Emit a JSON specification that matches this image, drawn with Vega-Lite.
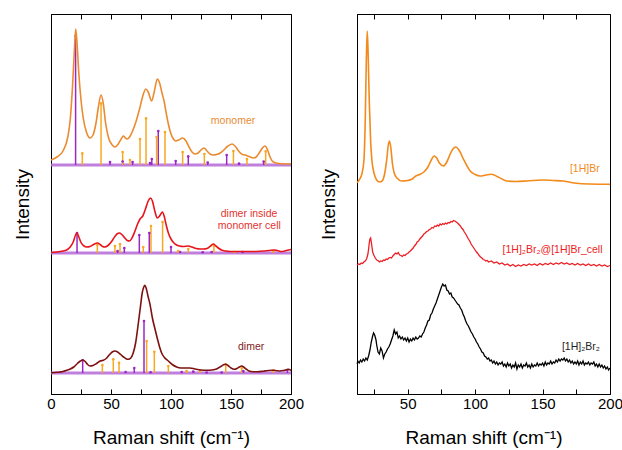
{
  "$schema": "https://vega.github.io/schema/vega-lite/v6.json",
  "background": "white",
  "padding": {"left": 12, "top": 13, "right": 5, "bottom": 0},
  "spacing": 13,
  "config": {
    "font": "Liberation Sans",
    "view": {"stroke": "black", "strokeWidth": 1},
    "axis": {"grid": false, "domainColor": "black", "tickColor": "black", "labelColor": "black", "titleColor": "black", "labelFontSize": 15, "titleFontSize": 19, "titleFontWeight": "normal", "labelFlush": false, "labelOverlap": false}
  },
  "datasets": {
    "bases": [{"b": 229}, {"b": 141}, {"b": 21}],
    "sticks": [
      {"t": "p", "x": 20.5, "y0": 229, "y1": 358}, {"t": "p", "x": 49.2, "y0": 229, "y1": 232}, {"t": "p", "x": 59.7, "y0": 229, "y1": 232.5}, {"t": "p", "x": 68, "y0": 229, "y1": 232}, {"t": "p", "x": 82.5, "y0": 229, "y1": 231}, {"t": "p", "x": 84, "y0": 229, "y1": 235}, {"t": "p", "x": 89.4, "y0": 229, "y1": 263}, {"t": "p", "x": 103.9, "y0": 229, "y1": 233}, {"t": "p", "x": 114.4, "y0": 229, "y1": 237.6}, {"t": "p", "x": 130.6, "y0": 229, "y1": 231.5}, {"t": "p", "x": 146.4, "y0": 229, "y1": 239}, {"t": "p", "x": 156.7, "y0": 229, "y1": 230.5}, {"t": "p", "x": 177.2, "y0": 229, "y1": 232.5},
      {"t": "o", "x": 26.1, "y0": 229, "y1": 240.6}, {"t": "o", "x": 41.7, "y0": 229, "y1": 290.6}, {"t": "o", "x": 59.7, "y0": 229, "y1": 242}, {"t": "o", "x": 65.8, "y0": 229, "y1": 234}, {"t": "o", "x": 74.2, "y0": 229, "y1": 255}, {"t": "o", "x": 79.2, "y0": 229, "y1": 275.6}, {"t": "o", "x": 88, "y0": 229, "y1": 257}, {"t": "o", "x": 95, "y0": 229, "y1": 262}, {"t": "o", "x": 109.7, "y0": 229, "y1": 242}, {"t": "o", "x": 127.8, "y0": 229, "y1": 240}, {"t": "o", "x": 152, "y0": 229, "y1": 243}, {"t": "o", "x": 163.3, "y0": 229, "y1": 235}, {"t": "o", "x": 178.9, "y0": 229, "y1": 242.6},
      {"t": "p", "x": 21.7, "y0": 141, "y1": 161}, {"t": "p", "x": 55.5, "y0": 141, "y1": 143}, {"t": "p", "x": 61.1, "y0": 141, "y1": 146}, {"t": "p", "x": 73.6, "y0": 141, "y1": 159}, {"t": "p", "x": 81.9, "y0": 141, "y1": 161}, {"t": "p", "x": 100, "y0": 141, "y1": 147}, {"t": "p", "x": 107.5, "y0": 141, "y1": 142}, {"t": "p", "x": 126.4, "y0": 141, "y1": 141.7}, {"t": "p", "x": 133.9, "y0": 141, "y1": 142}, {"t": "p", "x": 159.7, "y0": 141, "y1": 142},
      {"t": "o", "x": 38.6, "y0": 141, "y1": 149}, {"t": "o", "x": 53.3, "y0": 141, "y1": 148}, {"t": "o", "x": 57.5, "y0": 141, "y1": 150}, {"t": "o", "x": 76.9, "y0": 141, "y1": 147}, {"t": "o", "x": 83.3, "y0": 141, "y1": 168}, {"t": "o", "x": 93, "y0": 141, "y1": 172}, {"t": "o", "x": 106, "y0": 141, "y1": 143}, {"t": "o", "x": 114.4, "y0": 141, "y1": 145}, {"t": "o", "x": 135.8, "y0": 141, "y1": 148}, {"t": "o", "x": 152.8, "y0": 141, "y1": 142}, {"t": "o", "x": 185.3, "y0": 141, "y1": 143},
      {"t": "p", "x": 26.4, "y0": 21, "y1": 33.7}, {"t": "p", "x": 62.2, "y0": 21, "y1": 22}, {"t": "p", "x": 69.4, "y0": 21, "y1": 26}, {"t": "p", "x": 77.5, "y0": 21, "y1": 73}, {"t": "p", "x": 83, "y0": 21, "y1": 21.7}, {"t": "p", "x": 108.9, "y0": 21, "y1": 22}, {"t": "p", "x": 118.6, "y0": 21, "y1": 22.5}, {"t": "p", "x": 129.7, "y0": 21, "y1": 21.5}, {"t": "p", "x": 142.2, "y0": 21, "y1": 21.5}, {"t": "p", "x": 160.3, "y0": 21, "y1": 23}, {"t": "p", "x": 197, "y0": 21, "y1": 24},
      {"t": "o", "x": 42.8, "y0": 21, "y1": 29}, {"t": "o", "x": 51.9, "y0": 21, "y1": 34.7}, {"t": "o", "x": 56.7, "y0": 21, "y1": 31.3}, {"t": "o", "x": 79.7, "y0": 21, "y1": 53}, {"t": "o", "x": 86.1, "y0": 21, "y1": 42.3}, {"t": "o", "x": 97.8, "y0": 21, "y1": 28}, {"t": "o", "x": 113, "y0": 21, "y1": 23}, {"t": "o", "x": 124.2, "y0": 21, "y1": 23}, {"t": "o", "x": 145.6, "y0": 21, "y1": 29.7}, {"t": "o", "x": 158.9, "y0": 21, "y1": 26}, {"t": "o", "x": 185.3, "y0": 21, "y1": 23.7}
    ],
    "mono": [{"x":0,"y":234},{"x":5,"y":237},{"x":10,"y":243},{"x":14,"y":257},{"x":16,"y":274},{"x":18,"y":309},{"x":19.5,"y":344},{"x":20.6,"y":365},{"x":21.7,"y":351},{"x":23,"y":324},{"x":25,"y":294},{"x":27,"y":275},{"x":29.5,"y":262},{"x":32.5,"y":256},{"x":35,"y":259},{"x":37.5,"y":271},{"x":39.5,"y":287},{"x":41.7,"y":299},{"x":43.5,"y":291},{"x":45.5,"y":271},{"x":48,"y":256},{"x":51,"y":249},{"x":53.3,"y":247},{"x":56,"y":250},{"x":58.5,"y":255},{"x":60.3,"y":258},{"x":62,"y":256},{"x":63.6,"y":255},{"x":65.5,"y":257},{"x":68,"y":263},{"x":71,"y":273},{"x":74,"y":286},{"x":76.5,"y":298},{"x":79,"y":305},{"x":81,"y":302},{"x":83.9,"y":293},{"x":86,"y":302},{"x":88.6,"y":315},{"x":90.5,"y":311},{"x":92.5,"y":301},{"x":94.2,"y":293},{"x":96,"y":281},{"x":97.8,"y":270},{"x":100,"y":260},{"x":102,"y":255},{"x":104,"y":253},{"x":106.5,"y":254},{"x":109.7,"y":256},{"x":112.5,"y":253},{"x":115,"y":247},{"x":117.5,"y":242},{"x":120,"y":240},{"x":122.5,"y":241},{"x":125,"y":244},{"x":127.5,"y":246},{"x":130,"y":243},{"x":132.5,"y":240},{"x":135.3,"y":239},{"x":138,"y":239.5},{"x":141,"y":241},{"x":144,"y":244},{"x":147,"y":247.5},{"x":151,"y":250},{"x":154,"y":247},{"x":157,"y":242},{"x":159.5,"y":239.5},{"x":161.7,"y":239},{"x":165,"y":237.5},{"x":168.6,"y":236},{"x":171,"y":237},{"x":174,"y":242},{"x":176.5,"y":246.5},{"x":178.3,"y":248},{"x":180.5,"y":244},{"x":182.5,"y":237},{"x":185.3,"y":232},{"x":190,"y":230.5},{"x":200,"y":230}],
    "dcell": [{"x":0,"y":141.5},{"x":5,"y":142},{"x":10,"y":143},{"x":13,"y":144},{"x":16,"y":147},{"x":18.5,"y":152},{"x":20.5,"y":159},{"x":21.7,"y":161},{"x":23.2,"y":157},{"x":25,"y":151.5},{"x":27.5,"y":148},{"x":29.7,"y":147},{"x":32.5,"y":147.5},{"x":35.5,"y":149.5},{"x":38.6,"y":151},{"x":41,"y":149.5},{"x":43,"y":147.5},{"x":45,"y":147},{"x":47.5,"y":148.5},{"x":50.5,"y":152.5},{"x":53.5,"y":158},{"x":55.5,"y":160.5},{"x":57,"y":161},{"x":59,"y":159.5},{"x":61.5,"y":156},{"x":63.5,"y":153.5},{"x":65.3,"y":153},{"x":67.5,"y":156},{"x":70,"y":163},{"x":72.5,"y":171},{"x":74.2,"y":175},{"x":76.5,"y":178},{"x":79,"y":186},{"x":81,"y":193},{"x":83,"y":196},{"x":84.5,"y":193},{"x":86.5,"y":183},{"x":88.6,"y":176},{"x":90.5,"y":178},{"x":92.8,"y":182},{"x":94.5,"y":177},{"x":96,"y":169},{"x":97.8,"y":161},{"x":100,"y":155},{"x":102.5,"y":151},{"x":104.7,"y":149},{"x":107,"y":148},{"x":110,"y":147.5},{"x":114.4,"y":148},{"x":117.5,"y":147},{"x":121,"y":145.5},{"x":124,"y":145},{"x":127,"y":145},{"x":130,"y":145.5},{"x":133,"y":148},{"x":135.3,"y":150},{"x":137.5,"y":148},{"x":140,"y":145.5},{"x":142,"y":144},{"x":145,"y":143},{"x":150,"y":142.5},{"x":157.5,"y":142.5},{"x":165,"y":142.5},{"x":171.4,"y":142.5},{"x":178,"y":143},{"x":182,"y":143.5},{"x":185.3,"y":144},{"x":188.5,"y":143.5},{"x":192.2,"y":142.5},{"x":196,"y":143.5},{"x":200,"y":144.5}],
    "dim": [{"x":0,"y":21.3},{"x":5,"y":21.7},{"x":10,"y":22.5},{"x":13,"y":23.7},{"x":16,"y":25},{"x":19,"y":27},{"x":22,"y":30.5},{"x":24.5,"y":33},{"x":26.4,"y":34},{"x":28.5,"y":32.5},{"x":30.5,"y":29.5},{"x":32.5,"y":28},{"x":35,"y":28.5},{"x":38,"y":30.5},{"x":41,"y":33},{"x":43.6,"y":33.7},{"x":46,"y":35.5},{"x":48.5,"y":39},{"x":51,"y":42},{"x":53.3,"y":43},{"x":55.5,"y":42},{"x":58,"y":39.5},{"x":60.5,"y":37},{"x":62.5,"y":35.3},{"x":64.4,"y":34.7},{"x":66.5,"y":36},{"x":68.5,"y":41},{"x":70.5,"y":51},{"x":72.8,"y":71},{"x":74.5,"y":87},{"x":76,"y":101},{"x":77.3,"y":107},{"x":78.3,"y":108.7},{"x":79.5,"y":105},{"x":80.8,"y":98},{"x":82.5,"y":89.7},{"x":84.5,"y":76},{"x":86.7,"y":64.7},{"x":88.5,"y":56},{"x":90.5,"y":47},{"x":92.2,"y":41},{"x":94.5,"y":36.5},{"x":97.8,"y":33},{"x":101,"y":29.5},{"x":104.7,"y":27},{"x":108,"y":26},{"x":112,"y":26},{"x":115.8,"y":26},{"x":120,"y":25},{"x":125,"y":24},{"x":129.7,"y":23.7},{"x":134,"y":24},{"x":138,"y":25},{"x":141.5,"y":27.5},{"x":143.8,"y":29.3},{"x":145.6,"y":29.7},{"x":147.5,"y":28.5},{"x":150,"y":26},{"x":152.8,"y":24.7},{"x":155,"y":25.5},{"x":157,"y":27},{"x":158.9,"y":28},{"x":160.5,"y":27},{"x":162.5,"y":25},{"x":165,"y":23},{"x":168.6,"y":22.3},{"x":172,"y":22.2},{"x":177,"y":22.8},{"x":181,"y":23.5},{"x":185.3,"y":23.7},{"x":188,"y":23.3},{"x":190.8,"y":23},{"x":194,"y":23.5},{"x":197.8,"y":24.7},{"x":200,"y":23.5}],
    "rorange": [{"x":12.5,"y":211.3},{"x":14,"y":214},{"x":16,"y":220},{"x":17.5,"y":233},{"x":18.5,"y":273},{"x":19.3,"y":333},{"x":20,"y":363},{"x":20.7,"y":338},{"x":21.5,"y":293},{"x":22.5,"y":253},{"x":23.5,"y":233},{"x":25,"y":221},{"x":27,"y":214},{"x":29,"y":212},{"x":31,"y":213},{"x":33,"y":221},{"x":34.5,"y":235},{"x":35.5,"y":248},{"x":36.5,"y":253},{"x":37.5,"y":246},{"x":38.7,"y":230},{"x":40,"y":221},{"x":42,"y":216},{"x":45.7,"y":213},{"x":50,"y":213.5},{"x":53,"y":214.7},{"x":56,"y":218},{"x":59.3,"y":219.7},{"x":62,"y":222},{"x":65,"y":227},{"x":67.5,"y":234},{"x":69.6,"y":238},{"x":71.5,"y":236},{"x":73.5,"y":231},{"x":76.5,"y":228},{"x":79,"y":232},{"x":81.5,"y":240},{"x":83.5,"y":245},{"x":85.7,"y":247},{"x":88,"y":244},{"x":91.4,"y":234.7},{"x":94,"y":228},{"x":96.3,"y":223},{"x":100,"y":219.5},{"x":103.7,"y":218},{"x":108,"y":219},{"x":112.3,"y":219.7},{"x":117,"y":217},{"x":123.5,"y":213},{"x":130,"y":212.5},{"x":138.3,"y":213},{"x":149.4,"y":214},{"x":158,"y":213.5},{"x":165.4,"y":213},{"x":175.3,"y":210.7},{"x":185,"y":210},{"x":200,"y":209.7}],
    "rred": [{"x":12.5,"y":129},{"x":13.5,"y":130},{"x":14.5,"y":129.5},{"x":15.5,"y":131},{"x":16.5,"y":130.5},{"x":17.5,"y":132},{"x":18.5,"y":133},{"x":19.5,"y":135},{"x":20.5,"y":140},{"x":21,"y":145},{"x":21.5,"y":151},{"x":22,"y":155},{"x":22.5,"y":156},{"x":23,"y":152},{"x":23.5,"y":147},{"x":24,"y":142},{"x":25,"y":138.5},{"x":26,"y":136},{"x":27,"y":134},{"x":28,"y":133.5},{"x":29,"y":132},{"x":30,"y":133},{"x":31,"y":132.5},{"x":32,"y":134},{"x":33,"y":133.5},{"x":34,"y":135},{"x":35,"y":134.5},{"x":36,"y":136},{"x":37,"y":136.5},{"x":38,"y":136},{"x":39,"y":138},{"x":40,"y":139.5},{"x":41,"y":141},{"x":42,"y":140},{"x":43,"y":141.5},{"x":44,"y":139},{"x":45,"y":138.5},{"x":46,"y":137.5},{"x":47,"y":139},{"x":48,"y":138.5},{"x":49,"y":140},{"x":50,"y":140.5},{"x":51,"y":142},{"x":52,"y":143},{"x":53,"y":144.5},{"x":54,"y":146},{"x":55,"y":148},{"x":56,"y":149.5},{"x":57,"y":152},{"x":58,"y":153},{"x":59,"y":155},{"x":60,"y":156.5},{"x":61,"y":158},{"x":62,"y":160},{"x":63,"y":161},{"x":64,"y":162.5},{"x":65,"y":163},{"x":66,"y":164.5},{"x":67,"y":165},{"x":68,"y":166.5},{"x":69,"y":166},{"x":70,"y":168},{"x":71,"y":167.5},{"x":72,"y":169},{"x":73,"y":168},{"x":74,"y":170},{"x":75,"y":169},{"x":76,"y":170.5},{"x":77,"y":169.5},{"x":78,"y":171},{"x":79,"y":170},{"x":80,"y":171.5},{"x":81,"y":171},{"x":82,"y":172.5},{"x":83,"y":172},{"x":84,"y":173.5},{"x":85,"y":173},{"x":86,"y":172},{"x":87,"y":171},{"x":88,"y":169.5},{"x":89,"y":168},{"x":90,"y":166},{"x":91,"y":164.5},{"x":92,"y":162},{"x":93,"y":160},{"x":94,"y":157.5},{"x":95,"y":155},{"x":96,"y":153},{"x":97,"y":150},{"x":98,"y":148},{"x":99,"y":146},{"x":100,"y":144},{"x":101,"y":142},{"x":102,"y":140.5},{"x":103,"y":138.5},{"x":104,"y":137},{"x":105,"y":136},{"x":106,"y":134.5},{"x":107,"y":134},{"x":108,"y":133},{"x":109,"y":133.5},{"x":110,"y":132},{"x":112,"y":133},{"x":114,"y":131},{"x":116,"y":132},{"x":118,"y":130},{"x":120,"y":131},{"x":122,"y":129},{"x":124,"y":130},{"x":126,"y":128},{"x":128,"y":129.5},{"x":130,"y":127.5},{"x":132,"y":129},{"x":134,"y":128},{"x":136,"y":129.5},{"x":138,"y":128.5},{"x":140,"y":130},{"x":142,"y":129},{"x":144,"y":130},{"x":146,"y":128.5},{"x":148,"y":130.5},{"x":150,"y":129},{"x":152,"y":130.5},{"x":154,"y":129.5},{"x":156,"y":131},{"x":158,"y":129.5},{"x":160,"y":131},{"x":162,"y":130},{"x":164,"y":131.5},{"x":166,"y":130},{"x":168,"y":131},{"x":170,"y":129.5},{"x":172,"y":130.5},{"x":174,"y":129},{"x":176,"y":130.5},{"x":178,"y":129},{"x":180,"y":130},{"x":182,"y":128.5},{"x":184,"y":130},{"x":186,"y":128.5},{"x":188,"y":129.5},{"x":190,"y":128},{"x":192,"y":129.5},{"x":194,"y":128},{"x":196,"y":129},{"x":198,"y":127.5},{"x":200,"y":128.5}],
    "rblack": [{"x":12.5,"y":30},{"x":13,"y":33},{"x":14,"y":31},{"x":15,"y":34},{"x":16,"y":32},{"x":17,"y":35},{"x":18,"y":33},{"x":19,"y":36},{"x":20,"y":34},{"x":21,"y":38},{"x":22,"y":44},{"x":23,"y":52},{"x":24,"y":58},{"x":24.7,"y":61},{"x":25.5,"y":59},{"x":26.5,"y":54},{"x":27,"y":49},{"x":28,"y":42},{"x":29,"y":40},{"x":30,"y":46},{"x":31,"y":43},{"x":32,"y":36},{"x":33,"y":40},{"x":34,"y":42},{"x":35,"y":45},{"x":36,"y":47},{"x":37,"y":50},{"x":38,"y":54},{"x":39,"y":58},{"x":40,"y":64},{"x":41,"y":60},{"x":42,"y":62},{"x":43,"y":56},{"x":44,"y":58},{"x":45,"y":55},{"x":46,"y":57},{"x":47,"y":54},{"x":48,"y":56},{"x":49,"y":53},{"x":50,"y":56},{"x":51,"y":52},{"x":52,"y":55},{"x":53,"y":53},{"x":54,"y":56},{"x":55,"y":54},{"x":56,"y":57},{"x":57,"y":55},{"x":58,"y":56},{"x":59,"y":58},{"x":60,"y":57},{"x":61,"y":60},{"x":62,"y":62},{"x":63,"y":66},{"x":64,"y":69},{"x":65,"y":73},{"x":66,"y":74},{"x":67,"y":79},{"x":68,"y":81},{"x":69,"y":85},{"x":70,"y":88},{"x":71,"y":91},{"x":72,"y":95},{"x":73,"y":99},{"x":74,"y":103},{"x":75,"y":107},{"x":76,"y":110},{"x":77,"y":108},{"x":78,"y":109},{"x":79,"y":104},{"x":80,"y":103},{"x":81,"y":100},{"x":82,"y":101},{"x":83,"y":97},{"x":84,"y":96},{"x":85,"y":94},{"x":86,"y":92},{"x":87,"y":90},{"x":88,"y":89},{"x":89,"y":86},{"x":90,"y":84},{"x":91,"y":80},{"x":92,"y":77},{"x":93,"y":73},{"x":94,"y":70},{"x":95,"y":68},{"x":96,"y":65},{"x":97,"y":62},{"x":98,"y":60},{"x":99,"y":57},{"x":100,"y":55},{"x":101,"y":52},{"x":102,"y":50},{"x":103,"y":47},{"x":104,"y":45},{"x":105,"y":42},{"x":106,"y":41},{"x":107,"y":38},{"x":108,"y":37},{"x":109,"y":35},{"x":110,"y":36},{"x":111,"y":33},{"x":112,"y":34},{"x":113,"y":31},{"x":114,"y":33},{"x":115,"y":30},{"x":116,"y":32},{"x":117,"y":29},{"x":118,"y":31},{"x":119,"y":30},{"x":120,"y":32},{"x":121,"y":28},{"x":122,"y":30},{"x":123,"y":27},{"x":124,"y":31},{"x":125,"y":28},{"x":126,"y":30},{"x":127,"y":26},{"x":128,"y":29},{"x":129,"y":27},{"x":130,"y":31},{"x":131,"y":25},{"x":132,"y":29},{"x":133,"y":27},{"x":134,"y":30},{"x":135,"y":26},{"x":136,"y":29},{"x":137,"y":28},{"x":138,"y":31},{"x":139,"y":27},{"x":140,"y":29},{"x":141,"y":26},{"x":142,"y":30},{"x":143,"y":27},{"x":144,"y":29},{"x":145,"y":28},{"x":146,"y":31},{"x":147,"y":28},{"x":148,"y":30},{"x":149,"y":29},{"x":150,"y":31},{"x":151,"y":28},{"x":152,"y":32},{"x":153,"y":29},{"x":154,"y":31},{"x":155,"y":30},{"x":156,"y":33},{"x":157,"y":30},{"x":158,"y":32},{"x":159,"y":31},{"x":160,"y":34},{"x":161,"y":32},{"x":162,"y":35},{"x":163,"y":33},{"x":164,"y":35},{"x":165,"y":34},{"x":166,"y":36},{"x":167,"y":33},{"x":168,"y":35},{"x":169,"y":32},{"x":170,"y":34},{"x":171,"y":31},{"x":172,"y":33},{"x":173,"y":30},{"x":174,"y":32},{"x":175,"y":30},{"x":176,"y":33},{"x":177,"y":29},{"x":178,"y":32},{"x":179,"y":30},{"x":180,"y":33},{"x":181,"y":29},{"x":182,"y":31},{"x":183,"y":30},{"x":184,"y":32},{"x":185,"y":29},{"x":186,"y":31},{"x":187,"y":30},{"x":188,"y":32},{"x":189,"y":28},{"x":190,"y":30},{"x":191,"y":27},{"x":192,"y":30},{"x":193,"y":27},{"x":194,"y":29},{"x":195,"y":26},{"x":196,"y":28},{"x":197,"y":25},{"x":198,"y":27},{"x":199,"y":24},{"x":200,"y":26}],
    "llabels": [{"x": 151.7, "y": 273, "t": "monomer", "c": "m"}, {"x": 165, "y": 179.7, "t": "dimer inside", "c": "r"}, {"x": 165.3, "y": 168, "t": "monomer cell", "c": "r"}, {"x": 166.8, "y": 47.3, "t": "dimer", "c": "d"}],
    "rlabels": [{"x": 181.3, "y": 224.7, "t": "[1H]Br", "c": "o"}, {"x": 157.4, "y": 143.7, "t": "[1H]₂Br₂@[1H]Br_cell", "c": "r"}, {"x": 178.4, "y": 47.3, "t": "[1H]₂Br₂", "c": "k"}]
  },
  "hconcat": [
    {
      "width": 240,
      "height": 380,
      "layer": [
        {"data": {"name": "bases"}, "mark": {"type": "rule", "color": "#B469D6", "strokeWidth": 3, "opacity": 0.85},
         "encoding": {"y": {"field": "b", "type": "quantitative", "scale": {"domain": [0, 380], "nice": false, "zero": false},
           "axis": {"title": "Intensity", "ticks": false, "labels": false, "titlePadding": 19, "titleFontSize": 19}}}},
        {"data": {"name": "sticks"}, "mark": {"type": "rule", "strokeWidth": 1.5},
         "encoding": {"x": {"field": "x", "type": "quantitative", "scale": {"domain": [0, 200], "nice": false, "zero": false},
           "axis": {"orient": "bottom", "values": [0, 25, 50, 75, 100, 125, 150, 175, 200], "labelExpr": "datum.value % 50 === 0 ? datum.label : ''", "tickSize": -5, "labelPadding": 7, "title": "Raman shift (cm⁻¹)", "titlePadding": 17}},
           "y": {"field": "y0", "type": "quantitative"}, "y2": {"field": "y1"},
           "color": {"field": "t", "type": "nominal", "scale": {"domain": ["o", "p"], "range": ["#F7A823", "#9B27C4"]}, "legend": null}}},
        {"data": {"name": "sticks"}, "mark": {"type": "point", "filled": true, "size": 7, "opacity": 1},
         "encoding": {"x": {"field": "x", "type": "quantitative", "axis": {"orient": "top", "values": [25, 50, 75, 100, 125, 150, 175], "labels": false, "tickSize": -5, "title": null}},
           "y": {"field": "y1", "type": "quantitative"},
           "color": {"field": "t", "type": "nominal", "scale": {"domain": ["o", "p"], "range": ["#F7A823", "#9B27C4"]}, "legend": null}}},
        {"data": {"name": "mono"}, "mark": {"type": "line", "color": "#EC8A30", "strokeWidth": 1.6, "interpolate": "monotone"},
         "encoding": {"x": {"field": "x", "type": "quantitative", "axis": null}, "y": {"field": "y", "type": "quantitative"}}},
        {"data": {"name": "dcell"}, "mark": {"type": "line", "color": "#E8141B", "strokeWidth": 1.6, "interpolate": "monotone"},
         "encoding": {"x": {"field": "x", "type": "quantitative", "axis": null}, "y": {"field": "y", "type": "quantitative"}}},
        {"data": {"name": "dim"}, "mark": {"type": "line", "color": "#7E1010", "strokeWidth": 1.6, "interpolate": "monotone"},
         "encoding": {"x": {"field": "x", "type": "quantitative", "axis": null}, "y": {"field": "y", "type": "quantitative"}}},
        {"data": {"name": "llabels"}, "mark": {"type": "text", "fontSize": 10.5, "align": "center", "baseline": "middle"},
         "encoding": {"x": {"field": "x", "type": "quantitative", "axis": null}, "y": {"field": "y", "type": "quantitative"}, "text": {"field": "t"},
           "color": {"field": "c", "type": "nominal", "scale": {"domain": ["m", "r", "d"], "range": ["#E98B35", "#E5322F", "#7E1A1A"]}, "legend": null}}}
      ],
      "resolve": {"axis": {"x": "independent"}, "scale": {"color": "independent"}}
    },
    {
      "width": 253,
      "height": 380,
      "layer": [
        {"data": {"name": "rorange"}, "mark": {"type": "line", "color": "#F28A1C", "strokeWidth": 1.6, "interpolate": "monotone"},
         "encoding": {"x": {"field": "x", "type": "quantitative", "scale": {"domain": [12.4, 200], "nice": false, "zero": false},
           "axis": {"orient": "bottom", "values": [25, 50, 75, 100, 125, 150, 175, 200], "labelExpr": "datum.value % 50 === 0 ? datum.label : ''", "tickSize": -5, "labelPadding": 7, "title": "Raman shift (cm⁻¹)", "titlePadding": 17}},
           "y": {"field": "y", "type": "quantitative", "scale": {"domain": [0, 380], "nice": false, "zero": false},
             "axis": {"title": "Intensity", "ticks": false, "labels": false, "titlePadding": 19, "titleFontSize": 19}}}},
        {"data": {"name": "rred"}, "mark": {"type": "line", "color": "#EE1D23", "strokeWidth": 1.3},
         "encoding": {"x": {"field": "x", "type": "quantitative", "axis": {"orient": "top", "values": [25, 50, 75, 100, 125, 150, 175], "labels": false, "tickSize": -5, "title": null}}, "y": {"field": "y", "type": "quantitative"}}},
        {"data": {"name": "rblack"}, "mark": {"type": "line", "color": "#000000", "strokeWidth": 1.3},
         "encoding": {"x": {"field": "x", "type": "quantitative", "axis": null}, "y": {"field": "y", "type": "quantitative"}}},
        {"data": {"name": "rlabels"}, "mark": {"type": "text", "fontSize": 10.5, "align": "center", "baseline": "middle"},
         "encoding": {"x": {"field": "x", "type": "quantitative", "axis": null}, "y": {"field": "y", "type": "quantitative"}, "text": {"field": "t"},
           "color": {"field": "c", "type": "nominal", "scale": {"domain": ["o", "r", "k"], "range": ["#F28A1C", "#EE1D23", "#222222"]}, "legend": null}}}
      ],
      "resolve": {"axis": {"x": "independent"}}
    }
  ]
}
